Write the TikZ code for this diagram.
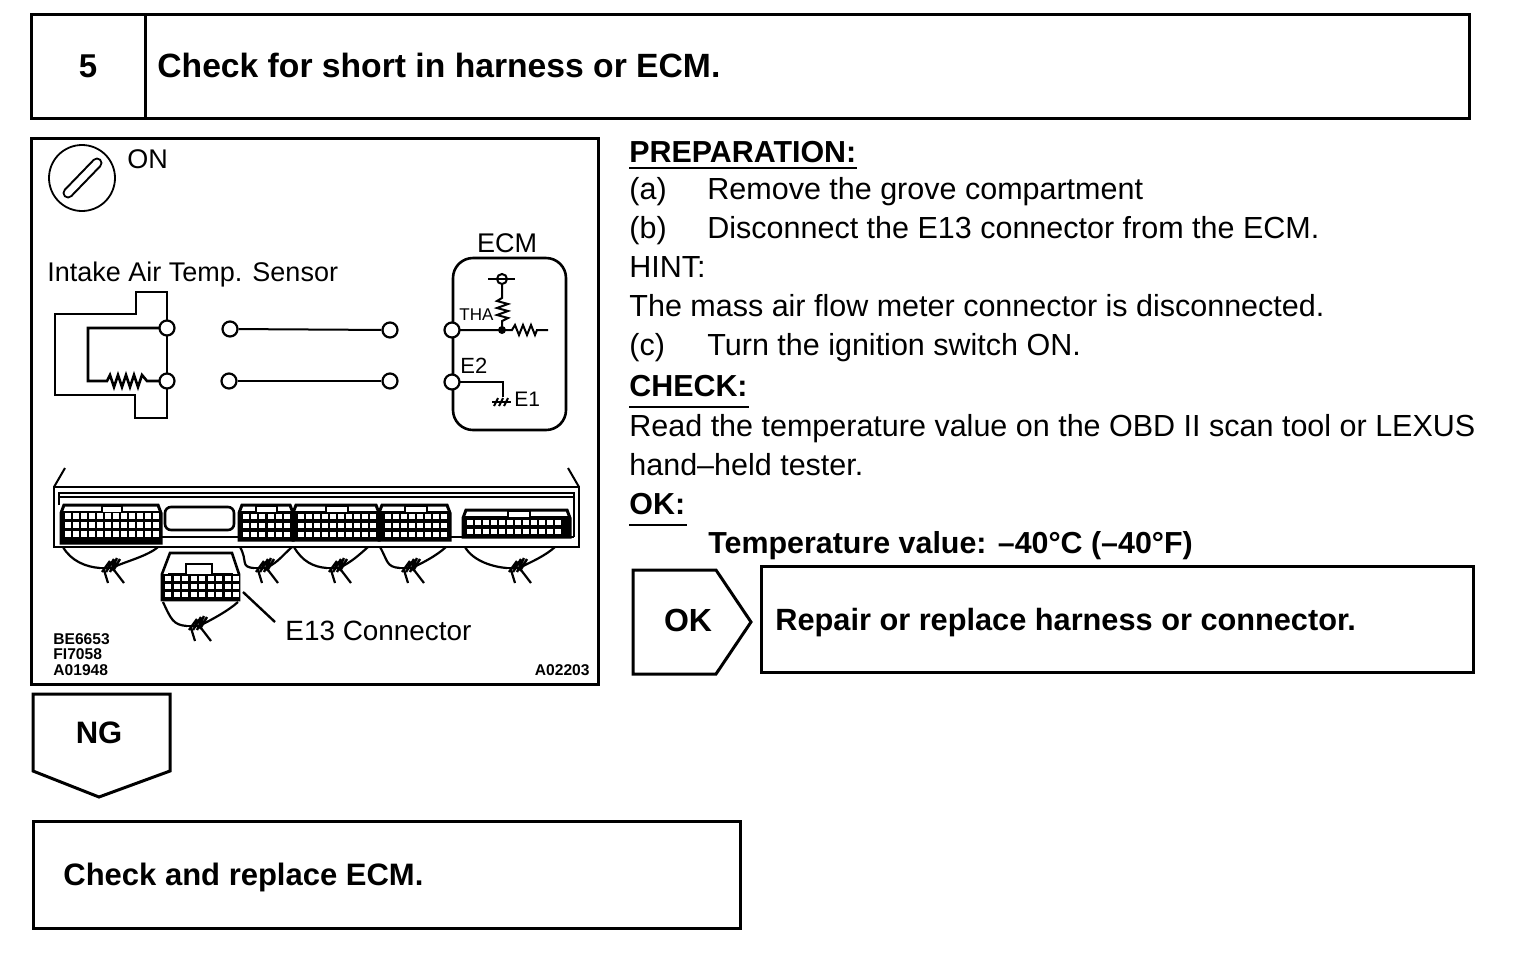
\documentclass[tikz,border=0pt]{standalone}
\usepackage{fontspec}
\setmainfont{Liberation Sans}
\newcommand{\fs}[1]{\fontsize{#1pt}{#1pt}\selectfont}
% x0 x1 ytop ybot tab0 tab1 : connector body
\newcommand{\connbody}[6]{%
  \draw[line width=1.5pt,fill=white] (#1+3,#3) -- (#2-3,#3) -- (#2,#3+8) -- (#2,#4) -- (#1,#4) -- (#1,#3+8) -- cycle;
  \fill (#1,#3+6) rectangle (#2,#4);
  \fill[white] (#1+5,#3+3) rectangle (#2-5,#3+6);
  \fill[white] (#5,#3+1) rectangle (#6,#3+8);
  \draw[line width=1pt] (#5,#3+1) rectangle (#6,#3+8);
}
% x0 dx n ; y0 dy m ; w h : white pins
\newcommand{\pinrows}[8]{%
  \foreach \ii in {1,...,#3}{\foreach \jj in {1,...,#6}{%
    \fill[white] ({#1+(\ii-1)*#2},{#4+(\jj-1)*#5}) rectangle ++(#7,#8);}}%
}
% left-x right-x top-y cluster-x cluster-y
\newcommand{\wirefan}[5]{%
  \draw[line width=1.1pt] (#1,#3) .. controls (#1+8,#5-6) and (#4-22,#5) .. (#4-8,#5+1);
  \draw[line width=1.1pt] (#2,#3) .. controls (#2-10,#3+9) and (#4+16,#5-5) .. (#4+6,#5);
  \draw[line width=1.2pt] (#4-10,#5+1) -- (#4+6,#5+1);
  \draw[line width=1.2pt] (#4-6,#5+5) -- (#4+2,#5-6) (#4-2,#5+5) -- (#4+6,#5-8) (#4+2,#5+5) -- (#4+9,#5-9) (#4+5,#5+4) -- (#4+12,#5-8);
  \draw[line width=1.1pt] (#4-4,#5+3) -- (#4,#5+16) (#4+6,#5+3) -- (#4+16,#5+16);
}
\tikzset{
  heavy/.style={line width=1.5pt},
  wire/.style={line width=1pt},
  box/.style={draw,line width=1.5pt,anchor=north west,inner sep=0pt,outer sep=0pt,fill=white},
  pin/.style={circle,draw,line width=1.1pt,fill=white,minimum size=7.5pt,inner sep=0pt},
  body/.style={anchor=base west,inner sep=0pt,font=\fs{15.25}},
  bodyb/.style={anchor=base west,inner sep=0pt,font=\fs{15.2}\bfseries},
  label/.style={anchor=base west,inner sep=0pt,font=\fs{13.5}},
  tiny/.style={anchor=base west,inner sep=0pt,font=\fs{7.8}\bfseries},
}
\begin{document}
\begin{tikzpicture}[x=0.5pt,y=-0.5pt]
\useasboundingbox[fill=white] (0,0) rectangle (1536,960);

% outer boxes
\node[box,minimum width=719pt,minimum height=52pt] (top) at (31,14) {};
\draw[heavy] (145,14) -- (145,118);
\node[anchor=base,inner sep=0pt,font=\fs{16.5}\bfseries] (stepno) at (88,77) {5};
\node[anchor=base west,inner sep=0pt,font=\fs{16.83}\bfseries] (title) at (157,77) {Check for short in harness or ECM.};

\node[box,minimum width=283.5pt,minimum height=273pt] (fig) at (31,138) {};

% NG / OK
\draw[heavy] (33,694) -- (170,694) -- (170,771) -- (99,797) -- (33,771) -- cycle;
\node[anchor=base,inner sep=0pt,font=\fs{15.5}\bfseries] (ng) at (99,743) {NG};
\node[box,minimum width=353.5pt,minimum height=53.5pt] (ecmbox) at (33,821) {};
\node[anchor=base west,inner sep=0pt,font=\fs{15.5}\bfseries] (ecmtxt) at (63,885) {Check and replace ECM.};
\draw[heavy] (633,570) -- (716,570) -- (751,622) -- (716,674) -- (633,674) -- cycle;
\node[anchor=base,inner sep=0pt,font=\fs{16}\bfseries] (ok) at (688,631) {OK};
\node[box,minimum width=356pt,minimum height=53pt] (repair) at (761,566) {};
\node[anchor=base west,inner sep=0pt,font=\fs{15.36}\bfseries] (repairtxt) at (775,630) {Repair or replace harness or connector.};

% instructions
\node[bodyb] (prep) at (629,162) {PREPARATION:};
\draw[wire] (629,168) -- (857,168);
\node[body] at (629,199) {(a)};
\node[body] at (707,199) {Remove the grove compartment};
\node[body] at (629,238) {(b)};
\node[body] at (707,238) {Disconnect the E13 connector from the ECM.};
\node[body] at (629,277) {HINT:};
\node[body] at (629,316) {The mass air flow meter connector is disconnected.};
\node[body] at (629,355) {(c)};
\node[body] at (707,355) {Turn the ignition switch ON.};
\node[bodyb] (chk) at (629,396) {CHECK:};
\draw[wire] (629,407) -- (749,407);
\node[body] at (629,436) {Read the temperature value on the OBD II scan tool or LEXUS};
\node[body] at (629,475) {hand--held tester.};
\node[bodyb] (oklab) at (629,514) {OK:};
\draw[wire] (629,525) -- (687,525);
\node[bodyb] at (708,553) {Temperature value: --40°C (--40°F)};

% ignition key
\node[circle,draw,line width=0.9pt,minimum size=33pt,inner sep=0pt] (key) at (82,178) {};
\draw[line width=5.5pt,line cap=round] (68,193) -- (97,163);
\draw[line width=3.4pt,line cap=round,white] (68,193) -- (97,163);
\node[label] at (127,168) {ON};

% sensor
\node[label] (sname) at (47,281) {Intake Air Temp. Sensor};
\node[label,anchor=base] (ecmname) at (507,252) {ECM};
\draw[heavy,line width=1.4pt] (167,328) -- (167,292) -- (136,292) -- (136,314) -- (55,314) -- (55,395) -- (135,395) -- (135,418) -- (167,418) -- (167,381);
\draw[wire,line width=1.3pt] (167,328) -- (167,381);
\draw[wire,line width=1.3pt] (167,328) -- (88,328) -- (88,381) -- (107,381) -- (110,375) -- (114,387) -- (118,375) -- (122,387) -- (126,375) -- (130,387) -- (134,375) -- (138,387) -- (142,375) -- (147,381) -- (167,381);

% ECM
\draw[heavy,line width=1.3pt,rounded corners=10pt] (453,258) rectangle (566,430);
\draw[wire] (452,330) -- (512,330) -- (515,325) -- (519,335) -- (523,325) -- (527,335) -- (531,325) -- (535,335) -- (537,330) -- (548,330);
\draw[wire] (488,279) -- (515,279);
\draw[wire] (502,279) -- (502,298) -- (497,301) -- (508,304) -- (497,308) -- (508,311) -- (497,315) -- (508,318) -- (502,321) -- (502,330);
\node[circle,draw,line width=1pt,fill=white,minimum size=5pt,inner sep=0pt] (vc) at (502,279) {};
\draw[wire] (495,279) -- (509,279);
\fill (502,330) circle (2pt);
\node[anchor=base west,inner sep=0pt,font=\fs{8.5}] (tha) at (459,320) {THA};
\node[anchor=base west,inner sep=0pt,font=\fs{11}] (e2) at (460,373) {E2};
\node[anchor=base west,inner sep=0pt,font=\fs{10.5}] (e1) at (514,406) {E1};
\coordinate (gnd) at (503,397);
\draw[wire] (452,382) -- (503,382) -- (gnd);
\draw[wire] (492,402) -- (511,402);
\draw[wire] (494,406) -- (498,398) (499,406) -- (503,398) (504,406) -- (508,398);

% pins and wires between them
\node[pin] (s1) at (167,328) {};
\node[pin] (s2) at (167,381) {};
\node[pin] (a1) at (230,329) {};
\node[pin] (a2) at (390,330) {};
\node[pin] (b1) at (229,381) {};
\node[pin] (b2) at (390,381) {};
\node[pin] (e3) at (452,330) {};
\node[pin] (e4) at (452,382) {};
\draw[wire] (a1) -- (a2);
\draw[wire,line width=1.3pt] (b1) -- (b2);

% ECM connector row
\draw[wire] (54,487) -- (65,468);
\draw[wire] (579,487) -- (568,468);
\draw[heavy,line width=1.4pt] (54,487) rectangle (579,547);
\draw[wire] (59,505) -- (59,493) -- (574,493) -- (574,505);
\draw[wire] (59,497) -- (574,497);
\draw[wire] (574,497) -- (574,537);
\draw[heavy,line width=1.2pt] (161,537) -- (239,537);
\draw[heavy,line width=1.2pt] (450,537) -- (463,537);
\draw[heavy,line width=1.2pt] (570,537) -- (574,537);
\draw[line width=1.3pt,rounded corners=3pt] (165,507) rectangle (234,530);

\connbody{61}{161}{505}{543}{102}{122}
\pinrows{65}{8}{12}{513}{9}{3}{6}{6}
\connbody{239}{293}{505}{540}{256}{277}
\pinrows{243}{8.2}{6}{514}{9}{3}{6}{5}
\connbody{293}{379}{505}{540}{326}{348}
\pinrows{298}{8}{10}{514}{9}{3}{6}{5}
\connbody{379}{450}{505}{540}{405}{427}
\pinrows{385}{8}{8}{514}{9}{3}{6}{5}
\connbody{463}{570}{510}{537}{508}{530}
\pinrows{467}{8}{12}{520}{9}{2}{6}{5}

\wirefan{63}{158}{547}{108}{567}
\wirefan{240}{292}{547}{262}{567}
\wirefan{294}{368}{547}{335}{567}
\wirefan{380}{446}{547}{408}{567}
\wirefan{465}{555}{547}{515}{567}

% E13 connector
\draw[line width=1.3pt,fill=white] (162,574) -- (170,553) -- (232,553) -- (239,574) -- (239,600) -- (162,600) -- cycle;
\draw[line width=1.3pt] (168,574) -- (186,574) -- (186,564) -- (212,564) -- (212,574) -- (233,574);
\fill (162,574) rectangle (239,600);
\pinrows{165}{8.5}{9}{576}{8}{3}{6}{5}
\wirefan{163}{238}{602}{195}{625}

\node[label,font=\fs{13.95}] (e13) at (285,640) {E13 Connector};
\coordinate (e13a) at (243,592);
\coordinate (e13b) at (275,622);
\draw[line width=1.2pt] (e13a) -- (e13b);

\node[tiny] at (53,644) {BE6653};
\node[tiny] at (53,659) {FI7058};
\node[tiny] at (53,675) {A01948};
\node[tiny,anchor=base east] at (590,675) {A02203};
\end{tikzpicture}
\end{document}
